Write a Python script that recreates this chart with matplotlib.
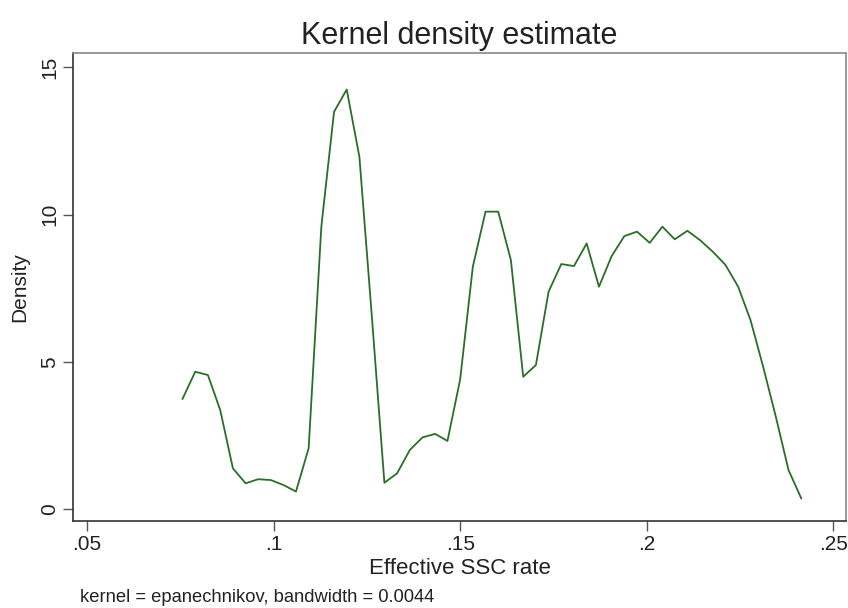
import matplotlib
matplotlib.use('Agg')
import matplotlib.pyplot as plt

# kdensity output
ssc_rate = [0.0756, 0.0790, 0.0824, 0.0857, 0.0891, 0.0925, 0.0959, 0.0993, 0.1027, 0.1060,
            0.1094, 0.1128, 0.1162, 0.1196, 0.1230, 0.1263, 0.1297, 0.1331, 0.1365, 0.1399,
            0.1433, 0.1466, 0.1500, 0.1534, 0.1568, 0.1602, 0.1636, 0.1669, 0.1703, 0.1737,
            0.1771, 0.1805, 0.1839, 0.1872, 0.1906, 0.1940, 0.1974, 0.2008, 0.2042, 0.2075,
            0.2109, 0.2143, 0.2177, 0.2211, 0.2245, 0.2278, 0.2312, 0.2346, 0.2380, 0.2414]
density = [3.74, 4.66, 4.55, 3.36, 1.38, 0.87, 1.01, 0.98, 0.81, 0.59,
           2.06, 9.59, 13.49, 14.25, 11.96, 6.6, 0.89, 1.21, 2.00, 2.43,
           2.55, 2.31, 4.4, 8.23, 10.1, 10.1, 8.45, 4.49, 4.89, 7.38,
           8.32, 8.25, 9.02, 7.55, 8.59, 9.27, 9.42, 9.04, 9.59, 9.16,
           9.45, 9.13, 8.74, 8.29, 7.55, 6.42, 4.83, 3.13, 1.32, 0.36]

x_ticks = [0.05, 0.1, 0.15, 0.2, 0.25]
x_labels = ['.05', '.1', '.15', '.2', '.25']
y_ticks = [0, 5, 10, 15]

plt.rcParams['font.family'] = ['Liberation Sans', 'DejaVu Sans']

fig = plt.figure(figsize=(8.48, 6.08), dpi=100)
ax = fig.add_axes([73 / 848, 1 - 521 / 608, (846 - 73) / 848, (521 - 52.7) / 608])

ax.plot(ssc_rate, density, color='#2a6e2a', linewidth=1.3)

ax.set_xlim(0.04625, 0.2534)
ax.set_ylim(-0.41, 15.5)
ax.set_xticks(x_ticks)
ax.set_xticklabels(x_labels)
ax.set_yticks(y_ticks)
ax.tick_params(direction='out', length=7, width=1, color='#555555', labelsize=15, pad=3,
               labelcolor='#222222')
for lbl in ax.get_yticklabels():
    lbl.set_rotation(90)
    lbl.set_va('center')

for s in ax.spines.values():
    s.set_color('#333333')
    s.set_linewidth(1.2)
ax.spines['top'].set_color('#888888')
ax.spines['right'].set_color('#888888')

ax.set_xlabel('Effective SSC rate', fontsize=16, labelpad=3, color='#222222')
ax.set_ylabel('Density', fontsize=15, labelpad=8, color='#222222')
ax.set_title('Kernel density estimate', fontsize=22, pad=6, color='#222222')

fig.text(80 / 848, 1 - 598 / 608, 'kernel = epanechnikov, bandwidth = 0.0044', fontsize=13.2,
         va='center', ha='left', color='#222222')

plt.savefig('out.png', dpi=100)
